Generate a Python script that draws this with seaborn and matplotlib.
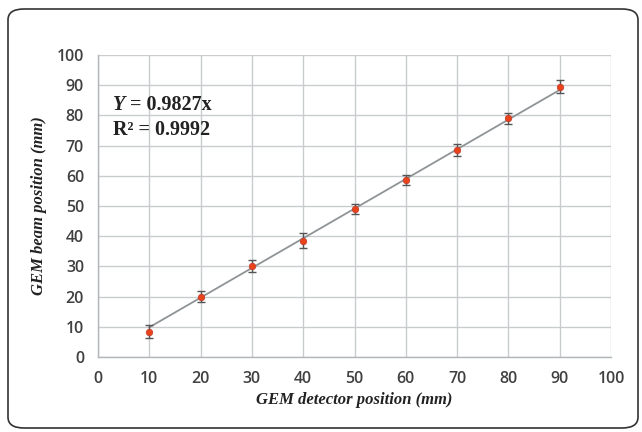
import matplotlib
matplotlib.use("Agg")
import matplotlib.pyplot as plt
import seaborn as sns
import pandas as pd
from matplotlib.patches import FancyBboxPatch

detector_pos = [10, 20, 30, 40, 50, 60, 70, 80, 90]
beam_pos = [8.4, 20.0, 30.0, 38.5, 49.0, 58.7, 68.5, 79.0, 89.5]
beam_err = [2.2, 1.8, 2.0, 2.5, 1.8, 1.6, 1.9, 1.9, 2.2]
slope = 0.9827
r2 = 0.9992
ticks = [0, 10, 20, 30, 40, 50, 60, 70, 80, 90, 100]

df = pd.DataFrame({"x": detector_pos, "y": beam_pos, "err": beam_err})
fit = pd.DataFrame({"x": [detector_pos[0], detector_pos[-1]]})
fit["y"] = slope * fit["x"]

sns.set_style("whitegrid")
fig = plt.figure(figsize=(6.42, 4.32), dpi=100)
ax = fig.add_axes([98/642, 1-357/432, (611-98)/642, (357-55)/432])

grid_c = "#c8cccf"
sns.lineplot(data=fit, x="x", y="y", ax=ax, color="#8f9496", lw=1.3, zorder=2)
ax.errorbar(df["x"], df["y"], yerr=df["err"], fmt="none", ecolor="#555555",
            elinewidth=1.0, capsize=3, capthick=1.0, zorder=3)
sns.scatterplot(data=df, x="x", y="y", ax=ax, color="#e8431a", s=22,
                edgecolor="#c0392b", linewidth=0.5, zorder=4)

ax.set_xlim(0, 100)
ax.set_ylim(0, 100)
ax.set_xticks(ticks)
ax.set_yticks(ticks)
ax.grid(True, color=grid_c, lw=1.0)
for s in ["top", "right"]:
    ax.spines[s].set_visible(False)
for s in ["left", "bottom"]:
    ax.spines[s].set_color("#b0b5b8")
    ax.spines[s].set_linewidth(1.0)
ax.tick_params(axis="both", which="both", length=5, width=1.0, color="#b0b5b8",
               labelsize=11.5, labelcolor="#404040", pad=5)
for lab in ax.get_xticklabels() + ax.get_yticklabels():
    lab.set_family("Open Sans")
    lab.set_weight("semibold")

ax.set_xlabel("GEM detector position (mm)", family="Liberation Serif", style="italic",
              weight="bold", fontsize=12, color="#222222", labelpad=4)
ax.set_ylabel("GEM beam position (mm)", family="Liberation Serif", style="italic",
              weight="bold", fontsize=12, color="#222222", labelpad=7)

ax.text(3, 83.6, "Y", family="Liberation Serif", style="italic",
        weight="bold", fontsize=14.5, color="#222222", va="center")
ax.text(6.3, 83.6, f"= {slope}x", family="Liberation Serif", weight="bold",
        fontsize=14.5, color="#222222", va="center")
ax.text(3, 75.3, f"R² = {r2}", family="Liberation Serif", weight="bold",
        fontsize=14.5, color="#222222", va="center")

border = FancyBboxPatch((8/642, 4/432), (638-8)/642, (423-4)/432,
                        boxstyle="round,pad=0,rounding_size=0.025",
                        transform=fig.transFigure, fill=False,
                        edgecolor="#333333", lw=1.2)
fig.patches.append(border)

fig.savefig("out.png", dpi=100)
